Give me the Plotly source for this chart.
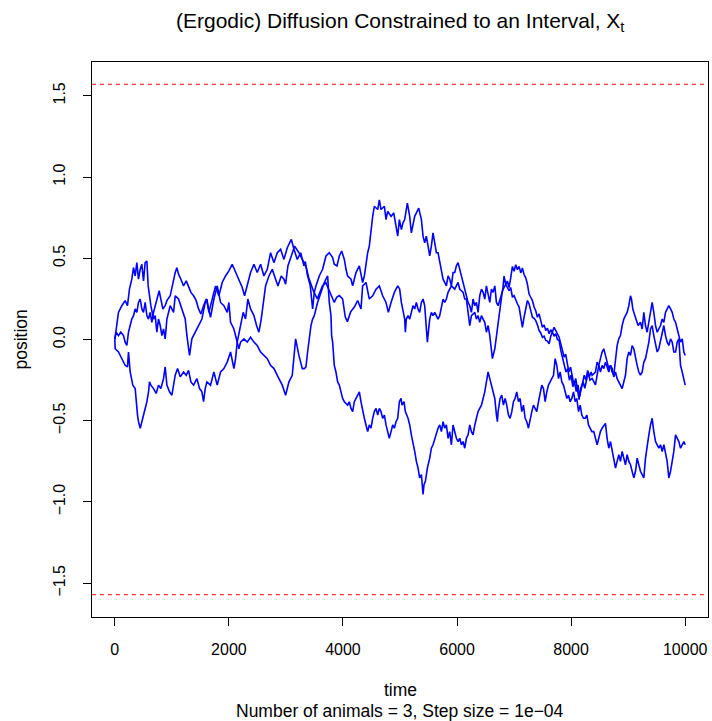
import math
import plotly.graph_objects as go

# Sample paths of three animals: (time step, position)
path_a = [(0, 0.0), (35, 0.086), (64, 0.167), (123, 0.208), (181, 0.239), (222, 0.208), (257, 0.31), (298, 0.371),
          (328, 0.442), (357, 0.391), (386, 0.473), (415, 0.371), (445, 0.432), (474, 0.463), (503, 0.361),
          (532, 0.473), (562, 0.483), (585, 0.33), (608, 0.269), (632, 0.208), (679, 0.126), (708, 0.147),
          (737, 0.045), (766, 0.126), (796, 0.086), (825, 0.024), (854, 0.065), (883, 0.004), (913, 0.126),
          (971, 0.208), (1030, 0.167), (1059, 0.269), (1117, 0.249), (1176, 0.188), (1234, 0.126), (1264, 0.024),
          (1310, -0.098), (1351, 0.004), (1410, 0.045), (1468, 0.086), (1527, 0.126), (1585, 0.228), (1615, 0.249),
          (1649, 0.167), (1707, 0.249), (1766, 0.33), (1824, 0.269), (1883, 0.351), (1941, 0.391), (2000, 0.422),
          (2058, 0.463), (2117, 0.412), (2175, 0.371), (2234, 0.32), (2275, 0.269), (2322, 0.33), (2380, 0.412),
          (2439, 0.463), (2497, 0.412), (2556, 0.463), (2614, 0.391), (2673, 0.432), (2731, 0.534), (2790, 0.473),
          (2848, 0.534), (2907, 0.555), (2965, 0.493), (3024, 0.565), (3094, 0.616), (3141, 0.555), (3199, 0.493),
          (3258, 0.534), (3316, 0.453), (3340, 0.48), (3375, 0.40), (3427, 0.33), (3450, 0.249), (3468, 0.188),
          (3497, 0.29), (3526, 0.33), (3585, 0.391), (3643, 0.432), (3702, 0.514), (3760, 0.534), (3819, 0.504),
          (3848, 0.463), (3895, 0.453), (3936, 0.514), (3977, 0.544), (4024, 0.493), (4053, 0.432), (4082, 0.391),
          (4141, 0.371), (4170, 0.33), (4199, 0.371), (4228, 0.412), (4287, 0.453), (4316, 0.391), (4345, 0.351),
          (4375, 0.391), (4404, 0.473), (4433, 0.534), (4462, 0.575), (4492, 0.677), (4521, 0.758), (4550, 0.82),
          (4609, 0.80), (4638, 0.86), (4667, 0.80), (4726, 0.82), (4755, 0.738), (4784, 0.789), (4843, 0.758),
          (4890, 0.779), (4930, 0.697), (4960, 0.636), (4989, 0.738), (5024, 0.677), (5053, 0.718), (5082, 0.738),
          (5129, 0.84), (5170, 0.758), (5199, 0.656), (5228, 0.697), (5258, 0.758), (5287, 0.779), (5328, 0.809),
          (5375, 0.738), (5404, 0.636), (5433, 0.595), (5462, 0.636), (5492, 0.575), (5521, 0.514), (5550, 0.575),
          (5579, 0.656), (5609, 0.595), (5638, 0.534), (5667, 0.534), (5696, 0.473), (5726, 0.432), (5755, 0.371),
          (5784, 0.351), (5813, 0.33), (5843, 0.391), (5872, 0.371), (5901, 0.33), (5930, 0.412), (5960, 0.412),
          (5989, 0.453), (6018, 0.473), (6047, 0.432), (6077, 0.391), (6106, 0.351), (6135, 0.31), (6164, 0.269),
          (6194, 0.228), (6223, 0.208), (6252, 0.167), (6281, 0.249), (6311, 0.208), (6340, 0.228), (6369, 0.167),
          (6398, 0.269), (6428, 0.31), (6457, 0.29), (6486, 0.249), (6515, 0.33), (6545, 0.269), (6574, 0.228),
          (6603, 0.31), (6632, 0.29), (6662, 0.33), (6691, 0.228), (6720, 0.208), (6750, 0.24), (6780, 0.28),
          (6800, 0.3), (6824, 0.39), (6854, 0.34), (6883, 0.36), (6912, 0.32), (6941, 0.38), (6971, 0.45),
          (7000, 0.42), (7029, 0.46), (7058, 0.43), (7088, 0.45), (7117, 0.41), (7146, 0.44), (7175, 0.4),
          (7205, 0.38), (7234, 0.34), (7263, 0.28), (7292, 0.26), (7322, 0.24), (7351, 0.2), (7380, 0.177),
          (7409, 0.137), (7439, 0.157), (7468, 0.116), (7497, 0.075), (7526, 0.09), (7556, 0.055), (7585, 0.07),
          (7614, 0.035), (7643, 0.06), (7673, 0.045), (7702, 0.02), (7731, 0.035), (7760, 0.0), (7790, -0.006),
          (7819, -0.067), (7848, -0.108), (7880, -0.14), (7910, -0.2), (7940, -0.18), (7970, -0.25), (8000, -0.22),
          (8030, -0.29), (8060, -0.26), (8090, -0.32), (8120, -0.28), (8150, -0.35), (8180, -0.3), (8210, -0.26),
          (8240, -0.3), (8270, -0.24), (8300, -0.2), (8330, -0.25), (8368, -0.24), (8427, -0.28), (8485, -0.159),
          (8543, -0.077), (8573, -0.057), (8602, -0.098), (8661, -0.179), (8690, -0.159), (8719, -0.2),
          (8748, -0.22), (8778, -0.118), (8807, -0.037), (8836, 0.004), (8865, 0.024), (8895, 0.086), (8924, 0.126),
          (8953, 0.147), (8982, 0.167), (9012, 0.208), (9041, 0.269), (9058, 0.249), (9082, 0.188), (9117, 0.147),
          (9140, 0.126), (9175, 0.086), (9216, 0.106), (9246, 0.065), (9275, 0.167), (9304, 0.086), (9333, 0.045),
          (9363, 0.106), (9392, 0.188), (9421, 0.228), (9450, 0.167), (9480, 0.086), (9509, 0.045), (9538, 0.065),
          (9567, 0.086), (9597, 0.126), (9626, 0.106), (9655, 0.167), (9684, 0.188), (9713, 0.208), (9743, 0.188),
          (9772, 0.167), (9801, 0.126), (9831, 0.106), (9860, 0.065), (9889, 0.024), (9918, -0.016), (9948, 0.004),
          (9977, -0.077), (10000, -0.098)]

path_b = [(0, 0.0), (23, 0.045), (64, 0.024), (105, 0.045), (152, 0.024), (181, -0.016), (211, -0.037), (240, 0.045),
          (269, 0.086), (298, 0.126), (328, 0.147), (357, 0.188), (386, 0.167), (415, 0.228), (445, 0.249),
          (474, 0.188), (503, 0.167), (532, 0.228), (562, 0.147), (591, 0.126), (620, 0.167), (649, 0.106),
          (679, 0.167), (708, 0.208), (737, 0.249), (778, 0.30), (807, 0.249), (842, 0.188), (883, 0.208),
          (913, 0.239), (971, 0.269), (1018, 0.351), (1059, 0.412), (1088, 0.442), (1117, 0.402), (1158, 0.371),
          (1205, 0.33), (1252, 0.361), (1293, 0.33), (1334, 0.29), (1381, 0.269), (1427, 0.239), (1468, 0.188),
          (1509, 0.157), (1556, 0.208), (1603, 0.249), (1678, 0.137), (1737, 0.249), (1795, 0.33), (1854, 0.228),
          (1912, 0.208), (1971, 0.167), (2000, 0.228), (2029, 0.106), (2088, 0.065), (2146, -0.016), (2175, -0.057),
          (2205, -0.016), (2263, 0.004), (2322, -0.016), (2380, 0.014), (2439, -0.016), (2497, -0.037),
          (2556, -0.077), (2614, -0.098), (2673, -0.118), (2731, -0.159), (2790, -0.179), (2877, -0.241),
          (2936, -0.281), (2994, -0.343), (3053, -0.261), (3111, -0.22), (3170, 0.004), (3228, -0.098),
          (3287, -0.179), (3322, -0.179), (3351, -0.169), (3380, -0.077), (3409, 0.024), (3439, 0.086),
          (3468, 0.126), (3497, 0.147), (3555, 0.228), (3614, 0.29), (3673, 0.351), (3731, 0.391), (3760, 0.228),
          (3790, 0.147), (3801, 0.024), (3819, -0.016), (3848, -0.159), (3877, -0.2), (3907, -0.261), (3936, -0.281),
          (3965, -0.322), (3994, -0.363), (4024, -0.383), (4082, -0.404), (4111, -0.383), (4141, -0.424),
          (4170, -0.444), (4199, -0.383), (4258, -0.343), (4287, -0.322), (4316, -0.383), (4345, -0.444),
          (4375, -0.485), (4404, -0.526), (4433, -0.567), (4462, -0.526), (4492, -0.546), (4521, -0.485),
          (4550, -0.444), (4580, -0.424), (4609, -0.465), (4638, -0.424), (4667, -0.444), (4696, -0.485),
          (4726, -0.465), (4755, -0.526), (4784, -0.567), (4813, -0.608), (4843, -0.567), (4872, -0.526),
          (4901, -0.546), (4930, -0.506), (4960, -0.485), (4989, -0.383), (5018, -0.363), (5035, -0.404),
          (5070, -0.383), (5094, -0.444), (5141, -0.485), (5170, -0.526), (5199, -0.587), (5228, -0.628),
          (5258, -0.689), (5287, -0.75), (5316, -0.791), (5345, -0.852), (5375, -0.832), (5404, -0.954),
          (5421, -0.893), (5445, -0.873), (5480, -0.791), (5521, -0.73), (5550, -0.669), (5579, -0.648),
          (5609, -0.608), (5638, -0.587), (5667, -0.546), (5696, -0.526), (5726, -0.567), (5755, -0.506),
          (5784, -0.546), (5813, -0.526), (5843, -0.608), (5872, -0.567), (5901, -0.648), (5930, -0.526),
          (5960, -0.567), (5989, -0.608), (6018, -0.628), (6047, -0.608), (6077, -0.648), (6106, -0.628),
          (6135, -0.669), (6164, -0.608), (6194, -0.587), (6223, -0.526), (6252, -0.567), (6281, -0.587),
          (6311, -0.526), (6340, -0.485), (6369, -0.444), (6398, -0.424), (6428, -0.404), (6457, -0.363),
          (6486, -0.322), (6515, -0.261), (6545, -0.2), (6574, -0.241), (6603, -0.281), (6632, -0.322),
          (6662, -0.363), (6691, -0.465), (6708, -0.506), (6720, -0.444), (6755, -0.363), (6784, -0.343),
          (6813, -0.404), (6843, -0.363), (6872, -0.404), (6901, -0.465), (6930, -0.485), (6960, -0.444),
          (6989, -0.383), (7018, -0.363), (7047, -0.322), (7077, -0.383), (7106, -0.363), (7135, -0.444),
          (7164, -0.404), (7194, -0.485), (7223, -0.506), (7252, -0.546), (7281, -0.485), (7311, -0.444),
          (7340, -0.404), (7369, -0.424), (7398, -0.444), (7428, -0.383), (7457, -0.322), (7486, -0.281),
          (7515, -0.302), (7545, -0.383), (7574, -0.322), (7603, -0.281), (7632, -0.261), (7662, -0.241),
          (7691, -0.22), (7720, -0.118), (7749, -0.159), (7779, -0.241), (7808, -0.2), (7837, -0.261),
          (7866, -0.281), (7896, -0.322), (7925, -0.363), (7954, -0.343), (7983, -0.383), (8013, -0.363),
          (8042, -0.322), (8071, -0.383), (8100, -0.363), (8130, -0.444), (8159, -0.404), (8188, -0.465),
          (8217, -0.485), (8247, -0.485), (8276, -0.465), (8305, -0.526), (8334, -0.546), (8364, -0.567),
          (8397, -0.567), (8427, -0.608), (8456, -0.648), (8485, -0.608), (8514, -0.567), (8543, -0.546),
          (8573, -0.526), (8602, -0.516), (8631, -0.608), (8661, -0.669), (8690, -0.628), (8719, -0.689),
          (8748, -0.73), (8778, -0.791), (8807, -0.75), (8836, -0.709), (8865, -0.75), (8895, -0.689),
          (8924, -0.73), (8953, -0.771), (8982, -0.709), (9012, -0.75), (9041, -0.771), (9070, -0.811),
          (9099, -0.852), (9129, -0.811), (9158, -0.73), (9187, -0.771), (9216, -0.811), (9246, -0.832),
          (9275, -0.852), (9304, -0.73), (9333, -0.648), (9363, -0.587), (9392, -0.526), (9421, -0.485),
          (9450, -0.567), (9480, -0.628), (9509, -0.648), (9538, -0.669), (9567, -0.648), (9597, -0.689),
          (9626, -0.648), (9655, -0.709), (9684, -0.75), (9713, -0.852), (9743, -0.811), (9772, -0.75),
          (9801, -0.689), (9831, -0.587), (9860, -0.608), (9889, -0.628), (9918, -0.669), (9948, -0.648),
          (9977, -0.628), (10000, -0.648)]

path_c = [(0, 0.0), (6, -0.057), (64, -0.077), (123, -0.118), (181, -0.159), (222, -0.169), (240, -0.077),
          (269, -0.2), (316, -0.281), (357, -0.302), (374, -0.383), (398, -0.465), (415, -0.506), (445, -0.546),
          (474, -0.506), (503, -0.465), (532, -0.424), (562, -0.383), (591, -0.322), (608, -0.261), (632, -0.281),
          (679, -0.302), (725, -0.332), (766, -0.281), (807, -0.302), (854, -0.241), (883, -0.169), (913, -0.281),
          (959, -0.322), (1000, -0.343), (1030, -0.281), (1059, -0.22), (1100, -0.179), (1147, -0.23), (1205, -0.2),
          (1252, -0.22), (1293, -0.19), (1334, -0.261), (1381, -0.281), (1439, -0.241), (1486, -0.302),
          (1527, -0.322), (1556, -0.383), (1585, -0.302), (1615, -0.261), (1678, -0.281), (1737, -0.2),
          (1795, -0.281), (1854, -0.2), (1912, -0.179), (1971, -0.139), (2029, -0.077), (2088, -0.179),
          (2117, -0.118), (2146, -0.016), (2205, 0.086), (2251, 0.167), (2292, 0.126), (2333, 0.249), (2380, 0.188),
          (2439, 0.147), (2485, 0.086), (2526, 0.045), (2567, 0.126), (2602, 0.208), (2643, 0.33), (2702, 0.391),
          (2760, 0.432), (2819, 0.371), (2860, 0.33), (2918, 0.391), (2965, 0.371), (2994, 0.34), (3035, 0.453),
          (3094, 0.514), (3152, 0.575), (3228, 0.534), (3316, 0.473), (3350, 0.45), (3400, 0.38), (3480, 0.3),
          (3550, 0.25), (3600, 0.3), (3640, 0.33), (3700, 0.35), (3760, 0.3), (3810, 0.25), (3848, 0.228),
          (3890, 0.26), (3936, 0.27), (3994, 0.25), (4040, 0.14), (4077, 0.11), (4135, 0.17), (4199, 0.2),
          (4258, 0.24), (4316, 0.188), (4345, 0.33), (4404, 0.351), (4462, 0.249), (4521, 0.269), (4580, 0.31),
          (4638, 0.33), (4696, 0.269), (4755, 0.228), (4796, 0.167), (4843, 0.228), (4901, 0.29), (4960, 0.33),
          (4994, 0.31), (5024, 0.228), (5053, 0.167), (5082, 0.126), (5094, 0.045), (5111, 0.126), (5141, 0.147),
          (5170, 0.126), (5199, 0.167), (5228, 0.208), (5258, 0.188), (5287, 0.228), (5316, 0.188), (5345, 0.167),
          (5375, 0.228), (5404, 0.249), (5433, 0.208), (5462, 0.086), (5480, -0.016), (5503, 0.065), (5521, 0.126),
          (5550, 0.167), (5579, 0.147), (5609, 0.167), (5638, 0.147), (5667, 0.126), (5696, 0.147), (5726, 0.208),
          (5755, 0.249), (5784, 0.228), (5813, 0.249), (5843, 0.29), (5872, 0.31), (5901, 0.33), (5960, 0.31),
          (5989, 0.33), (6018, 0.351), (6047, 0.31), (6106, 0.29), (6135, 0.249), (6164, 0.249), (6194, 0.167),
          (6223, 0.086), (6252, 0.147), (6311, 0.167), (6340, 0.126), (6369, 0.147), (6398, 0.106), (6428, 0.147),
          (6457, 0.126), (6486, 0.106), (6515, 0.045), (6545, 0.086), (6574, 0.024), (6603, -0.077),
          (6620, -0.118), (6662, -0.057), (6691, 0.024), (6720, 0.086), (6737, 0.157), (6766, 0.24), (6795, 0.3),
          (6824, 0.32), (6854, 0.34), (6883, 0.32), (6912, 0.3), (6941, 0.32), (6971, 0.26), (7000, 0.27),
          (7029, 0.24), (7058, 0.22), (7088, 0.2), (7117, 0.137), (7146, 0.075), (7175, 0.137), (7205, 0.2),
          (7234, 0.24), (7263, 0.22), (7292, 0.177), (7322, 0.137), (7351, 0.13), (7380, 0.116), (7409, 0.09),
          (7439, 0.055), (7468, 0.04), (7497, 0.014), (7526, 0.02), (7556, -0.006), (7585, -0.01), (7614, -0.027),
          (7643, 0.02), (7673, 0.055), (7702, 0.075), (7731, 0.055), (7760, 0.03), (7790, 0.014), (7819, -0.027),
          (7848, -0.067), (7877, -0.108), (7905, -0.09), (7930, -0.15), (7960, -0.2), (7990, -0.17), (8020, -0.23),
          (8050, -0.28), (8080, -0.24), (8110, -0.3), (8140, -0.37), (8170, -0.3), (8200, -0.27), (8230, -0.22),
          (8260, -0.25), (8290, -0.19), (8320, -0.23), (8350, -0.2), (8368, -0.22), (8427, -0.2), (8456, -0.139),
          (8485, -0.159), (8514, -0.2), (8543, -0.159), (8573, -0.179), (8602, -0.139), (8631, -0.169),
          (8661, -0.2), (8690, -0.159), (8719, -0.179), (8748, -0.23), (8778, -0.2), (8807, -0.241), (8836, -0.261),
          (8865, -0.281), (8895, -0.302), (8924, -0.261), (8953, -0.22), (8982, -0.118), (9012, -0.077),
          (9041, -0.098), (9070, -0.037), (9099, -0.057), (9129, -0.118), (9158, -0.159), (9187, -0.2),
          (9216, -0.22), (9246, -0.2), (9275, -0.139), (9304, -0.118), (9333, -0.077), (9363, -0.016),
          (9392, 0.065), (9421, 0.086), (9450, 0.024), (9480, -0.037), (9509, -0.077), (9538, -0.057),
          (9567, -0.016), (9597, 0.045), (9626, 0.086), (9655, 0.024), (9684, -0.016), (9713, -0.037),
          (9743, 0.004), (9772, -0.016), (9801, -0.077), (9831, -0.077), (9860, -0.016), (9889, 0.004),
          (9918, -0.159), (9948, -0.2), (9977, -0.241), (10000, -0.281)]

paths = [path_a, path_b, path_c]

# Reflecting boundaries of the interval
boundaries = [-math.pi / 2, math.pi / 2]

x_ticks = [0, 2000, 4000, 6000, 8000, 10000]
y_ticks = [-1.5, -1.0, -0.5, 0.0, 0.5, 1.0, 1.5]

n_animals = 3
step_size = "1e\u221204"

FONT = "Liberation Sans, Arial, Helvetica, sans-serif"

fig = go.Figure()
for p in paths:
    fig.add_trace(go.Scatter(
        x=[pt[0] for pt in p], y=[pt[1] for pt in p],
        mode="lines", line=dict(color="#0000FF", width=1.6),
        showlegend=False, hoverinfo="skip",
    ))

for b in boundaries:
    fig.add_shape(type="line", xref="paper", x0=0, x1=1, yref="y", y0=b, y1=b,
                  line=dict(color="#FF0000", width=1, dash="4px,4px"))

axis_common = dict(
    showline=True, mirror=True, linecolor="black", linewidth=1,
    ticks="outside", ticklen=8, tickcolor="black", tickwidth=1,
    showgrid=False, zeroline=False,
    tickfont=dict(family=FONT, size=16, color="black"),
)

fig.update_xaxes(range=[-400, 10400], tickvals=x_ticks, tickformat="d",
                 ticklabelstandoff=10, **axis_common)
fig.update_yaxes(range=[-1.708, 1.708], tickvals=y_ticks, tickformat=".1f",
                 tickangle=-90, ticklabelstandoff=12, **axis_common)

annotations = [
    dict(text="(Ergodic) Diffusion Constrained to an Interval, X<sub>t</sub>",
         x=0.5, y=1.0, yshift=40, xref="paper", yref="paper", showarrow=False,
         xanchor="center", yanchor="middle", font=dict(family=FONT, size=21, color="black")),
    dict(text="time", x=0.5, y=0.0, yshift=-73, xref="paper", yref="paper", showarrow=False,
         xanchor="center", yanchor="middle", font=dict(family=FONT, size=17.5, color="black")),
    dict(text=f"Number of animals = {n_animals}, Step size = {step_size}", x=0.5, y=0.0, yshift=-94,
         xref="paper", yref="paper", showarrow=False,
         xanchor="center", yanchor="middle", font=dict(family=FONT, size=17.5, color="black")),
    dict(text="position", x=0.0, xshift=-72, y=0.5, xref="paper", yref="paper", showarrow=False,
         textangle=-90, xanchor="center", yanchor="middle",
         font=dict(family=FONT, size=17.5, color="black")),
]

fig.update_layout(
    width=712, height=721,
    margin=dict(l=92, r=4, t=62, b=104),
    paper_bgcolor="white", plot_bgcolor="white",
    annotations=annotations,
    showlegend=False,
)

fig.write_html("out.html")
